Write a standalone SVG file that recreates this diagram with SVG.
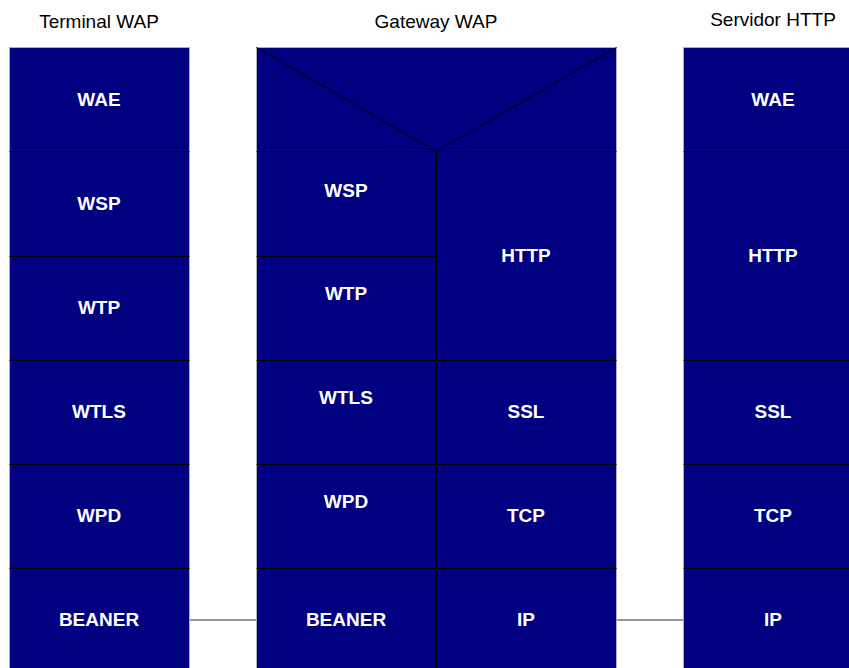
<svg xmlns="http://www.w3.org/2000/svg" width="849" height="668" viewBox="0 0 849 668">
  <style>
    .box { fill: #000080; stroke: #b0b0b0; stroke-width: 1; }
    .div { stroke: #000000; stroke-width: 1; fill: none; }
    .lbl { font-family: "Liberation Sans", Arial, sans-serif; font-size: 19px; font-weight: bold; fill: #ffffff; text-anchor: middle; }
    .ttl { font-family: "Liberation Sans", Arial, sans-serif; font-size: 19px; fill: #000000; text-anchor: middle; }
    .link { stroke: #777777; stroke-width: 1.5; fill: none; }
  </style>

  <!-- column titles -->
  <text class="ttl" x="99" y="28">Terminal WAP</text>
  <text class="ttl" x="436" y="28">Gateway WAP</text>
  <text class="ttl" x="773" y="25.5">Servidor HTTP</text>

  <!-- connectors between stacks -->
  <g id="connectors">
    <line class="link" x1="189" y1="620" x2="256" y2="620"/>
    <line class="link" x1="616" y1="620" x2="683" y2="620"/>
  </g>

  <!-- WAP terminal stack -->
  <g id="terminal">
    <rect class="box" x="9.5" y="47.5" width="180" height="630"/>
    <path class="div" d="M9.5 151.5H189.5M9.5 256.5H189.5M9.5 360.5H189.5M9.5 464.5H189.5M9.5 568.5H189.5"/>
    <text class="lbl" x="99" y="106">WAE</text>
    <text class="lbl" x="99" y="210">WSP</text>
    <text class="lbl" x="99" y="314">WTP</text>
    <text class="lbl" x="99" y="418">WTLS</text>
    <text class="lbl" x="99" y="522">WPD</text>
    <text class="lbl" x="99" y="626">BEANER</text>
  </g>

  <!-- WAP gateway stack -->
  <g id="gateway">
    <rect class="box" x="256.5" y="47.5" width="360" height="630"/>
    <path class="div" d="M256.5 47.5L436 151.5L616.5 47.5"/>
    <path class="div" d="M256.5 151.5H616.5M436.5 151.5V668"/>
    <path class="div" d="M256.5 256.5H436.5M256.5 360.5H616.5M256.5 464.5H616.5M256.5 568.5H616.5"/>
    <text class="lbl" x="346" y="197">WSP</text>
    <text class="lbl" x="346" y="300">WTP</text>
    <text class="lbl" x="346" y="404">WTLS</text>
    <text class="lbl" x="346" y="508">WPD</text>
    <text class="lbl" x="346" y="626">BEANER</text>
    <text class="lbl" x="526" y="262">HTTP</text>
    <text class="lbl" x="526" y="418">SSL</text>
    <text class="lbl" x="526" y="522">TCP</text>
    <text class="lbl" x="526" y="626">IP</text>
  </g>

  <!-- HTTP server stack -->
  <g id="server">
    <rect class="box" x="683.5" y="47.5" width="180" height="630"/>
    <path class="div" d="M683.5 151.5H863.5M683.5 360.5H863.5M683.5 464.5H863.5M683.5 568.5H863.5"/>
    <text class="lbl" x="773" y="106">WAE</text>
    <text class="lbl" x="773" y="262">HTTP</text>
    <text class="lbl" x="773" y="418">SSL</text>
    <text class="lbl" x="773" y="522">TCP</text>
    <text class="lbl" x="773" y="626">IP</text>
  </g>
</svg>
